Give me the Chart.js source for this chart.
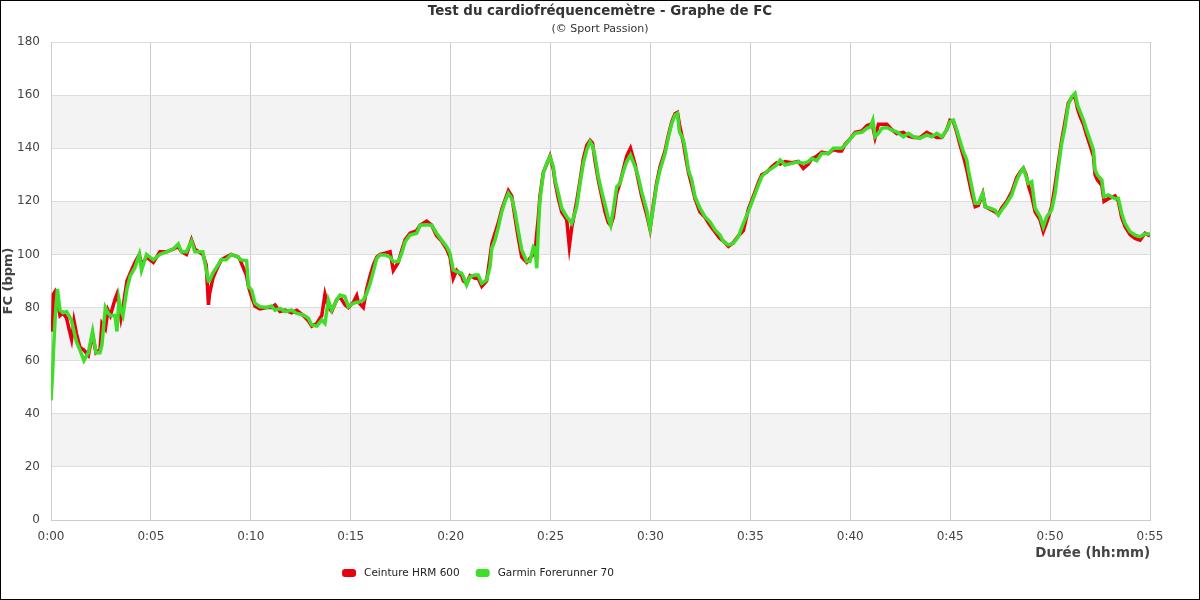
<!DOCTYPE html>
<html lang="fr">
<head>
<meta charset="utf-8">
<title>Test du cardiofréquencemètre - Graphe de FC</title>
<script src="https://cdn.jsdelivr.net/npm/chart.js@4.4.1/dist/chart.umd.min.js"></script>
<style>
    html, body { margin: 0; padding: 0; background: #fff; }
    #wrap { position: relative; width: 1200px; height: 600px; }
    #wrap canvas { display: block; }
    #frame { position: absolute; left: 0; top: 0; width: 1200px; height: 600px; box-sizing: border-box; border: 1px solid #000; pointer-events: none; }
</style>
</head>
<body>
<div id="wrap">
    <canvas id="hrChart" width="1200" height="600"></canvas>
    <div id="frame"></div>
</div>
<script>
// Durée en minutes
const minutes = [
    0, 0.08, 0.12, 0.2, 0.32, 0.45, 0.6, 0.78, 0.9, 1.03, 1.15, 1.28, 1.45, 1.65, 1.87, 2.08, 2.25, 2.45, 2.55, 2.72,
    2.85, 2.97, 3.2, 3.3, 3.4, 3.5, 3.6, 3.8, 3.97, 4.2, 4.42, 4.53, 4.78, 5.12, 5.45, 5.78, 6.12, 6.37, 6.53, 6.78,
    7.03, 7.2, 7.6, 7.77, 7.88, 7.93, 8.1, 8.27, 8.52, 8.77, 9.02, 9.38, 9.46,
    9.79, 9.88, 10.04, 10.21, 10.46, 10.79, 11.04, 11.21, 11.46, 11.71, 12.04, 12.3, 12.63, 12.88, 13.05,
    13.3, 13.55, 13.71, 13.88, 14.05, 14.3, 14.46, 14.71, 14.88, 15.13, 15.3, 15.38, 15.63, 15.8, 15.97,
    16.13, 16.3, 16.47, 16.72, 16.97, 17.13, 17.38, 17.55, 17.72, 17.97, 18.3, 18.47, 18.8, 19.05,
    19.3, 19.55, 19.8, 19.97, 20.13, 20.3, 20.55, 20.64, 20.8, 20.97, 21.22, 21.38, 21.56, 21.8, 21.97,
    22.06, 22.22, 22.39, 22.56, 22.72, 22.89, 23.06, 23.22, 23.39, 23.56, 23.81, 23.97, 24.14, 24.22, 24.31,
    24.39, 24.47, 24.64, 24.81, 24.97, 25.14, 25.23, 25.39, 25.56, 25.81, 25.94, 26.06, 26.31, 26.48, 26.64,
    26.81, 26.98, 27.1, 27.23, 27.39, 27.56, 27.73, 27.89, 28.01, 28.14, 28.31, 28.48,
    28.64, 28.81, 29.0, 29.23, 29.39, 29.56, 29.81, 29.98, 30.15, 30.31, 30.48, 30.73, 30.9, 31.07, 31.23,
    31.35, 31.45, 31.65, 31.78, 31.9, 32.07, 32.23, 32.48, 32.73, 32.98, 33.23, 33.48, 33.65, 33.9, 34.15,
    34.4, 34.65, 34.9, 35.15, 35.4, 35.57, 35.82, 36.07, 36.32, 36.49, 36.74, 37.07, 37.4,
    37.65, 37.9, 38.07, 38.32, 38.57, 38.9, 39.15, 39.4, 39.57, 39.74, 39.99, 40.24, 40.58, 40.83, 41.0,
    41.13, 41.24, 41.41, 41.58, 41.83, 42.08, 42.33, 42.66, 42.91, 43.16, 43.49, 43.83, 44.08, 44.33, 44.58,
    44.83, 44.99, 45.16, 45.33, 45.5, 45.66, 45.83, 45.91,
    46.08, 46.25, 46.41, 46.63, 46.75, 46.99, 47.25, 47.41, 47.58, 47.83, 48.08, 48.33, 48.5, 48.66, 48.8,
    48.91, 49.08, 49.25, 49.5, 49.66, 49.83, 50.08, 50.25, 50.42, 50.58, 50.75, 50.91, 51.08, 51.25, 51.37,
    51.5, 51.67, 51.83, 52.0, 52.17, 52.25, 52.37, 52.59, 52.7, 52.92, 53.25, 53.42, 53.58, 53.75, 54.0,
    54.25, 54.5, 54.75, 55
];

// FC - Ceinture HRM 600 (bpm)
const ceintureHRM = [
    71, 73, 85, 86, 83, 77, 78, 76, 72, 68, 75, 70, 65, 64, 62, 70, 63, 64, 74, 72,
    79, 77, 83, 85, 81, 76, 80, 90, 93, 97, 100, 96, 99, 97, 101, 101, 102, 103, 101, 100,
    105.5, 102, 100, 96, 81, 85, 91, 94, 98, 99, 100, 99, 98,
    92, 88, 84, 80.5, 79.5, 80, 80, 81, 78.5, 79, 78, 79, 77, 75, 73,
    74, 77, 85, 80, 78.6, 83, 84, 81, 80, 82, 84.5, 82, 80, 87, 92,
    96, 99, 100, 100.5, 101, 94, 97, 101.5, 105.5, 108, 109, 111, 112.5, 111,
    107, 105, 102, 99, 91, 94, 92, 90, 89, 92, 91, 91, 88, 90, 99,
    104, 108, 112, 117, 120.5, 124, 122, 114, 106, 99, 97, 98.5, 100, 100.5, 108,
    114, 122, 131, 134, 137, 132, 127, 121, 116, 113, 103, 110, 120, 128, 136,
    141, 143, 142, 135, 128, 122, 116, 112, 111, 114, 123, 127,
    132, 137, 140, 134, 128, 122, 115, 109.5, 119, 127, 133, 139, 145, 150, 153,
    153.5, 149, 142, 136, 131, 126, 121, 116, 114, 111, 108.5, 106, 105, 103, 104.5,
    107, 109, 117, 122, 127, 130, 131, 133, 134.5, 134, 135, 134.5, 135,
    132.4, 134, 136, 137, 138.5, 138, 139.5, 139, 139, 141.5, 143.5, 146, 146.5, 148.5, 149,
    148, 144, 149, 149, 149, 147, 145.5, 146, 144.5, 144, 144, 146, 145, 144, 144,
    147, 150.5, 150, 146, 141, 137, 132, 129,
    123, 118, 118.5, 123, 118, 117, 116, 115, 117.5, 120, 123.5, 129, 131, 132.5, 130,
    126, 122, 116, 113, 108.6, 112, 118, 126, 135, 143, 150, 157, 159, 159.5, 155,
    152, 149, 145, 141, 137, 130, 128, 126, 120, 121, 122, 120, 114, 110.5, 107.5,
    106, 105.4, 108, 107
];

// FC - Garmin Forerunner 70 (bpm)
const garminFR70 = [
    45, 55, 63, 75, 87, 79, 78, 78.5, 77, 75, 71, 67, 64, 60, 63, 71, 63, 63, 66, 80,
    78, 77, 77, 71, 83, 79, 77, 87, 92, 95, 100, 94, 100, 98, 100, 101, 102, 104, 101, 101,
    105, 101, 101, 94, 90, 90, 93, 95, 98, 98, 100, 99, 98,
    97.6, 88, 86.6, 81.6, 80.3, 80, 80.6, 79, 79.7, 78.5, 79, 77.8, 77.2, 76, 73.4,
    73, 75.3, 74, 82.8, 79, 82.8, 84.7, 84.2, 80.3, 81.6, 82, 82, 82.8, 85.4, 89.1,
    93.5, 98.5, 99.8, 99.8, 99, 97.3, 97.3, 100.4, 104.8, 107.3, 108, 111, 111.2, 111,
    108, 105.4, 102.9, 100.4, 94.1, 93.5, 92.9, 91.6, 88.5, 91.6, 92.3, 92.3, 89.1, 90.4, 95.4,
    102.3, 105.4, 110.4, 116.1, 119.9, 123, 121.1, 116.1, 108.6, 101.7, 97.3, 97.3, 102.9, 102.3, 94.8,
    109.2, 120.5, 130.6, 134.3, 136.8, 133, 128, 123, 117.4, 114.2, 113, 111.7, 118, 126.8, 134.3,
    139.3, 142.5, 141, 136.8, 129.3, 123.6, 118.6, 113.6, 111, 116.7, 125.5, 126.8,
    131.2, 134.9, 137.4, 133, 129.3, 123.6, 116.7, 109.8, 118, 126.1, 131.8, 138, 144.3, 149.4, 152.5,
    153.1, 146.2, 143.1, 138, 131.8, 128, 121.7, 117.4, 114.2, 112.3, 109.2, 107.3, 104.8, 103.6, 104.2,
    106.7, 111.7, 116.1, 121.1, 126.1, 129.3, 131.2, 132.4, 133.7, 135.6, 133.7, 134.3, 134.9,
    134.3, 134.9, 136.2, 135.3, 138, 138, 140, 140, 140, 141.2, 143.4, 145.6, 146, 147.5, 148,
    150.6, 144.3, 145.6, 147.5, 147.8, 146.8, 146.2, 144.3, 145.6, 144.3, 143.7, 145, 144.3, 145.6, 144.3,
    146.8, 150, 150.6, 146.8, 142.5, 138.7, 135.6, 131.8,
    125.5, 119.3, 119.3, 123, 118, 117.4, 116.7, 114.8, 116.7, 119.3, 122.4, 128, 130.6, 132.4, 129.3,
    126.8, 127.4, 117.4, 114.2, 110.4, 114.2, 116.7, 123, 133, 141.8, 148.1, 156.3, 159.4, 160.7, 156.3,
    153.8, 150.6, 146.8, 143.1, 139.3, 131.8, 129.9, 128, 121.7, 122.4, 121, 121.1, 115.5, 111.7, 108.6,
    107.3, 106.7, 107.7, 107.7
];

const seriesNames = ['Ceinture HRM 600', 'Garmin Forerunner 70'];
const seriesColors = ['#e8000e', '#40de2a'];
const chartTitle = 'Test du cardiofréquencemètre - Graphe de FC';
const chartSubtitle = '(© Sport Passion)';

Chart.defaults.font.family = '"DejaVu Sans", sans-serif';
Chart.defaults.color = '#444';

// Bandes grises alternées entre les graduations
const bandsPlugin = {
    id: 'bands',
    beforeDraw(chart) {
        const ctx = chart.ctx;
        const area = chart.chartArea;
        const yScale = chart.scales.y;
        const ticks = yScale.ticks;
        ctx.save();
        ctx.fillStyle = '#f3f3f3';
        for (let i = 1; i < ticks.length - 1; i += 2) {
            const top = yScale.getPixelForValue(ticks[i + 1].value);
            const bottom = yScale.getPixelForValue(ticks[i].value);
            ctx.fillRect(area.left, top, area.right - area.left, bottom - top);
        }
        ctx.restore();
    }
};

// Titre centré sur toute la largeur + légende en bas
const headerFooter = {
    id: 'headerFooter',
    afterDraw(chart) {
        const ctx = chart.ctx;
        const cx = chart.width / 2;
        ctx.save();
        ctx.textAlign = 'center';
        ctx.textBaseline = 'middle';
        ctx.fillStyle = '#333';
        ctx.font = 'bold 13.4px "DejaVu Sans"';
        ctx.fillText(chartTitle, cx, 12);
        ctx.font = '11px "DejaVu Sans"';
        ctx.fillText(chartSubtitle, cx, 29);

        ctx.font = '10.5px "DejaVu Sans"';
        const items = chart.data.datasets.map(ds => ({
            label: ds.label,
            color: ds.borderColor,
            width: 14 + 8 + ctx.measureText(ds.label).width
        }));
        const gap = 16;
        const total = items.reduce((s, it) => s + it.width, 0) + gap * (items.length - 1);
        let x = 478 - total / 2;
        const y = 573;
        ctx.textAlign = 'left';
        items.forEach(it => {
            ctx.fillStyle = it.color;
            ctx.beginPath();
            ctx.roundRect(x, y - 4, 14, 8, 3);
            ctx.fill();
            ctx.fillStyle = '#222';
            ctx.fillText(it.label, x + 22, y);
            x += it.width + gap;
        });
        ctx.restore();
    }
};

const ctx = document.getElementById('hrChart').getContext('2d');
const hrChart = new Chart(ctx, {
    type: 'line',
    data: {
        datasets: [
            {
                label: seriesNames[0],
                data: minutes.map((m, i) => ({ x: m, y: ceintureHRM[i] })),
                borderColor: seriesColors[0],
                backgroundColor: seriesColors[0],
                borderWidth: 3.5,
                pointRadius: 0,
                tension: 0,
                order: 1
            },
            {
                label: seriesNames[1],
                data: minutes.map((m, i) => ({ x: m, y: garminFR70[i] })),
                borderColor: seriesColors[1],
                backgroundColor: seriesColors[1],
                borderWidth: 3.5,
                pointRadius: 0,
                tension: 0,
                order: 0
            }
        ]
    },
    options: {
        responsive: false,
        animation: false,
        layout: {
            padding: { left: 0, right: 50, top: 42, bottom: 38 }
        },
        plugins: {
            legend: { display: false },
            tooltip: { enabled: false },
            title: { display: false },
            subtitle: { display: false }
        },
        scales: {
            x: {
                type: 'linear',
                min: 0,
                max: 55,
                afterFit: scale => { scale.height = 42; },
                ticks: {
                    stepSize: 5,
                    padding: 10,
                    color: '#444',
                    font: { size: 12 },
                    maxRotation: 0,
                    callback: v => Math.floor(v / 60) + ':' + String(v % 60).padStart(2, '0')
                },
                grid: { color: '#cccccc', tickLength: 0 },
                border: { color: '#cccccc' },
                title: {
                    display: true,
                    text: 'Durée (hh:mm)',
                    align: 'end',
                    color: '#444',
                    font: { size: 13.4, weight: 'bold' },
                    padding: { top: 1, bottom: 0 }
                }
            },
            y: {
                min: 0,
                max: 180,
                afterFit: scale => { scale.width = 51; },
                ticks: {
                    stepSize: 20,
                    padding: 11,
                    color: '#444',
                    font: { size: 12 }
                },
                grid: { color: '#dddddd', tickLength: 0 },
                border: { color: '#cccccc' },
                title: {
                    display: true,
                    text: 'FC (bpm)',
                    color: '#444',
                    font: { size: 13, weight: 'bold' },
                    padding: { top: 1, bottom: 0 }
                }
            }
        }
    },
    plugins: [bandsPlugin, headerFooter]
});
</script>
</body>
</html>
